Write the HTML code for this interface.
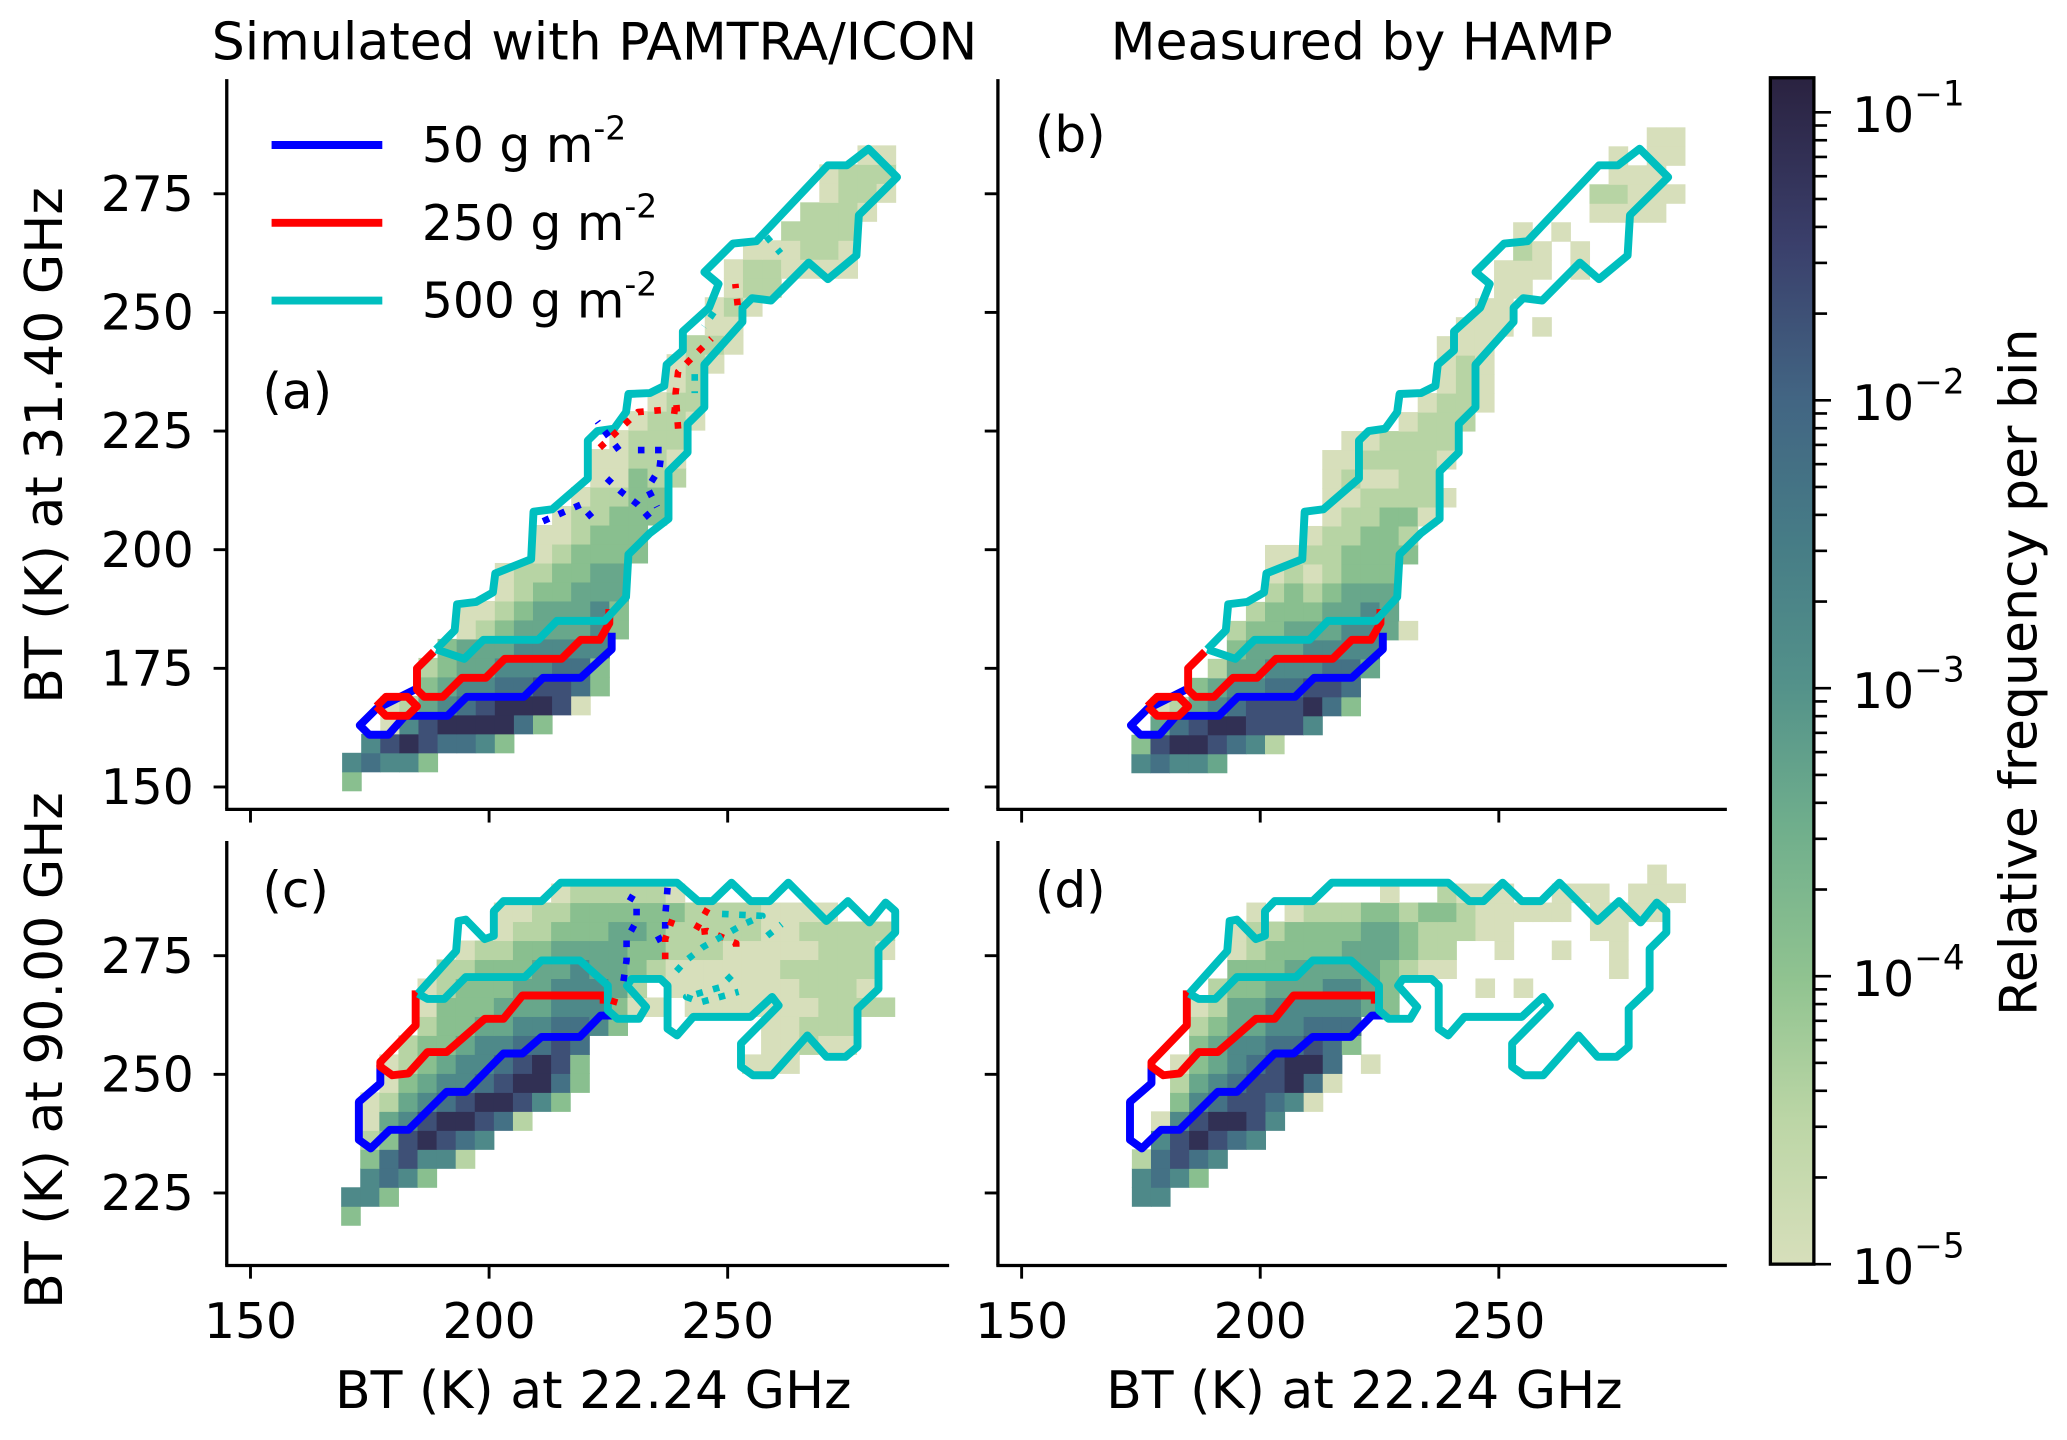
<!DOCTYPE html>
<html><head><meta charset="utf-8"><title>BT histograms</title>
<style>
html,body{margin:0;padding:0;background:#fff;}
svg{display:block;font-family:"DejaVu Sans","Liberation Sans",sans-serif;}
</style></head>
<body>
<svg id="chart" xmlns="http://www.w3.org/2000/svg" width="2067" height="1440" viewBox="0 0 1568 1092.4">
<defs>
<linearGradient id="cmap" x1="0" y1="1" x2="0" y2="0">
<stop offset="0" stop-color="#d7dfbb"/><stop offset="0.12" stop-color="#bcd6a6"/><stop offset="0.24" stop-color="#90c390"/>
<stop offset="0.37" stop-color="#6fae8c"/><stop offset="0.49" stop-color="#53918a"/><stop offset="0.61" stop-color="#467c86"/>
<stop offset="0.73" stop-color="#426583"/><stop offset="0.86" stop-color="#3a3f6b"/><stop offset="1" stop-color="#2a2240"/>
</linearGradient>
</defs>
<text x="451" y="45" font-size="39.5" text-anchor="middle">Simulated with PAMTRA/ICON</text>
<text x="1033" y="45" font-size="39.5" text-anchor="middle">Measured by HAMP</text>
<text x="450" y="1068" font-size="39.5" text-anchor="middle">BT (K) at 22.24 GHz</text>
<text x="1035" y="1068" font-size="39.5" text-anchor="middle">BT (K) at 22.24 GHz</text>
<text transform="translate(47,338) rotate(-90)" font-size="39.5" text-anchor="middle">BT (K) at 31.40 GHz</text>
<text transform="translate(47,797) rotate(-90)" font-size="39.5" text-anchor="middle">BT (K) at 90.00 GHz</text>
<text transform="translate(1545,510) rotate(-90)" font-size="39.5" text-anchor="middle">Relative frequency per bin</text>
<g id="plots"></g>
</svg>
<script>
// ---------- data ----------
const xTicks=[150,200,250];
const yTicksTop=[150,175,200,225,250,275];
const yTicksBot=[225,250,275];
const cbarExponents=[-1,-2,-3,-4,-5];
const binSize=4;
// heatmap rows (bottom to top); digit = log-frequency level, '.' = empty
const originA=[169.2,149.2];
const rowsA=["4","67664",".68987764","..268999974","..23567899982","....4566778874","....3455666774",".....455566666","......234555564","......223455564","........2344555","........2334455","..........234444","..........223444","...........233444","............23344",".............22433",".............22332","..............2333","...............2332","................233",".................23",".................232","..................332","...................22","...................232","....................233","....................2332222",".....................222332",".......................3333","........................3332",".........................2332",".........................2333","...........................22"];
const originB=[173,153];
const rowsB=["67665","48998763",".578998886",".23567888974","...456677887","....355666775",".....45556666",".....3445556652","......34445565",".......3434555",".......2323444",".......22334444",".........233443","..........233442","..........2233332","..........232233","..........2233332","...........223333","..............2333","...............2332","................232","................232","................222",".................222.2","..................22","...................22","...................222.2","....................32.2","....................2.2","........................2222","........................33222",".........................222",".........................2.22","...........................22"];
const originC=[169,218.2];
const rowsC=["4","664",".6764",".478663",".3489876",".256899873",".23567899864","..24566789974","..23456678984........222","...3445667787.........22322","....34455667764.......22333","....2444555666422.22222223333","....234445566653.22222223332",".....33444556554322222233333","......23344555544333222223332","........233444554333332233333","........223344444433332222","...........2333332"];
const originD=[173.1,222.2];
const rowsD=["66","6764","37876",".689876",".2689986","..46788762","..356788972","..245678997.2","...456677874","...345566777","...23556666654","....3445556654....2.2",".....444555554322........2",".....234444555433..2..2..2",".....233444455433322....22","......2.233344344322222.2222",".............2..3222..222.222","...........................2"];
// contours (BT22, BT31) for top row
const cyanTop=[[188.9,179],[194.8,177],[198.8,181],[210.3,181],[214.2,185],[224.2,185],[228.7,190],[229.2,199],[233.7,203.5],[237.6,206.5],[237.6,216.5],[241.6,220.5],[241.6,226.5],[245.1,230],[245.1,239],[253.1,248],[253.1,251],[255.1,253],[259.1,252.5],[267,260.5],[271,257],[277,262],[277.5,270.5],[285.5,278.5],[279.5,284.5],[275,281],[271,281],[256,265],[251.1,264.5],[245.1,258.5],[248.1,256],[246.1,251],[240.6,246],[240.6,242],[237.2,239],[236.7,234.5],[233.7,233],[229.2,232.8],[228.7,229],[226.2,225.5],[222.7,225],[220.7,223],[220.7,215],[213.2,208.5],[209.3,208],[208.8,198],[201.3,195],[200.8,191],[197.3,189],[193.3,188.5],[192.8,183],[188.9,179]];
const redTop=[[225.2,187.5],[225.2,184.5],[223.2,181],[219.2,181],[215.2,177],[203.3,177],[199.3,173],[194.3,173],[190.3,169],[186.4,169],[184.9,170.5],[184.9,175],[188.4,178.5]];
const redTopLoop=[[176.4,167],[178.4,169],[182.9,169],[184.9,167],[182.9,165],[178.4,165],[176.4,167]];
const blueTop=[[225.7,182.5],[225.7,179],[219.2,173],[211.3,173],[207.3,169],[195.3,169],[191.3,165],[182.4,165],[178.9,161],[174.9,161],[172.9,163],[176.4,166.5],[184.4,170.5]];
const blueTopDots=[[[211.3,206],[219.2,209.5],[222.2,206]],[[224.7,215],[227.7,212.2],[231.2,209.5],[234.2,206]],[[231.2,221],[236.2,221],[235.7,217],[233.2,213],[235.2,209]],[[227.2,221],[222.7,227]]];
const redTopDots=[[[223.2,221.5],[231.2,229],[237.2,229.5],[241.1,229]],[[239.6,225.5],[239.1,233],[239.6,237.5],[243.1,241],[246.6,244.5]],[[252.1,251.5],[251.6,256]]];
const cyanTopDots=[[[258.1,266],[261.1,262.5]],[[247.1,250],[245,247]],[[243.1,237],[243.1,233]]];
// contours (BT22, BT90) for bottom row
const cyanBot=[[185.1,267.0],[193.1,276.0],[193.6,282.3],[195.1,282.6],[199.1,278.5],[201.0,279.2],[201.0,284.4],[203.0,286.5],[211.0,286.5],[215.0,290.4],[239.4,290.4],[243.8,286.5],[246.8,286.5],[250.8,290.4],[254.8,286.5],[258.8,286.5],[262.7,290.4],[270.7,282.3],[275.2,286.5],[279.7,282.0],[283.1,286.2],[285.1,284.4],[285.1,279.9],[281.6,276.4],[281.6,268.0],[277.2,263.8],[277.2,255.8],[274.7,253.7],[270.7,253.7],[266.7,258.2],[259.3,249.8],[255.3,249.8],[252.8,251.6],[252.8,256.5],[260.7,264.5],[259.3,266.3],[254.8,262.1],[242.8,262.1],[239.4,258.2],[237.4,259.6],[237.4,268.7],[235.9,270.1],[229.9,270.1],[228.9,268.7],[232.9,264.2],[231.4,261.7],[226.9,261.7],[224.9,263.5],[224.9,268.7],[219.0,274.0],[211.0,274.0],[207.5,270.5],[195.1,270.5],[190.6,265.9],[187.1,265.9],[185.1,267.0]];
const redBot=[[224.0,264.9],[224.0,266.6],[222.0,266.6],[207.0,266.6],[203.0,261.7],[199.1,261.7],[191.1,254.7],[187.1,254.7],[183.1,250.2],[179.7,249.8],[177.2,251.6],[177.2,252.6],[184.6,260.3],[184.6,267.7]];
const blueBot=[[226.4,262.4],[223.4,262.4],[219.0,257.9],[211.0,257.9],[207.0,254.4],[203.0,254.4],[195.1,246.3],[191.1,246.3],[183.1,238.3],[179.2,238.3],[175.2,234.4],[172.7,236.2],[172.7,244.2],[177.2,248.1],[177.2,252.0]];
const blueBotDots=[[[229.2,287.5],[230.9,286.5],[230.9,282.3],[228.8,278.5],[228.8,274],[228.0,268.7]],[[237.4,289.3],[236.9,283.2],[236.9,279.2],[233.9,277.6]]];
const redBotDots=[[[238.4,282.6],[236.9,278.5],[236.9,274.0]],[[245.8,284.9],[243.0,279.9],[245.8,280.2],[251.8,277.6],[251.8,274.7]],[[226.4,266.0],[225.8,264.0]]];
const cyanBotDots=[[[248.8,283.8],[257.3,283.4],[253.3,281.6],[250.3,279.9],[247.8,278.5],[244.8,276.8],[241.3,274.0],[238.4,270.8]],[[250.8,270.8],[248.3,268.3],[241.3,266.3],[244.3,265.2],[252.3,267.4]],[[258.3,279.2],[261.3,281.6]]];
const legendLabels=["50 g m","250 g m","500 g m"];

// ---------- rendering ----------
const NS='http://www.w3.org/2000/svg';
const root=document.getElementById('plots');
function el(tag,parent){const e=document.createElementNS(NS,tag);parent.appendChild(e);return e;}
function setA(e,o){for(const k in o)e.setAttribute(k,o[k]);}
const stops=[[0,[215,223,187]],[0.12,[188,214,166]],[0.24,[144,195,144]],[0.37,[111,174,140]],[0.49,[83,145,138]],[0.61,[70,124,134]],[0.73,[66,101,131]],[0.86,[58,63,107]],[1,[42,34,64]]];
const LOGMIN=-5,LOGMAX=-0.88;
function cmap(t){t=Math.max(0,Math.min(1,t));for(let i=1;i<stops.length;i++){if(t<=stops[i][0]){const a=stops[i-1],b=stops[i];const f=(t-a[0])/(b[0]-a[0]);const c=a[1].map((v,k)=>Math.round(v+(b[1][k]-v)*f));return 'rgb('+c.join(',')+')';}}return 'rgb(42,34,64)';}
function levelToLog(d){return -5+(d-2)*0.55;}

const panels={
 a:{L:172,R:720,T:60,B:614,xp0:190,yv0:150,yp0:597,yt:yTicksTop,lab:true,xlab:false},
 b:{L:757,R:1310,T:60,B:614,xp0:775,yv0:150,yp0:597,yt:yTicksTop,lab:false,xlab:false},
 c:{L:172,R:720,T:638,B:960,xp0:190,yv0:225,yp0:905,yt:yTicksBot,lab:true,xlab:true},
 d:{L:757,R:1310,T:638,B:960,xp0:775,yv0:225,yp0:905,yt:yTicksBot,lab:false,xlab:true}
};
function sx(p,v){return p.xp0+(v-150)*3.62;}
function sy(p,v){return p.yp0-(v-p.yv0)*3.6;}

function drawHeat(p,rows,origin,name){
 const g=el('g',root);
 
 
 rows.forEach((s,j)=>{for(let k=0;k<s.length;k++){const ch=s[k];if(ch==='.')continue;
  const x=origin[0]+binSize*k,y=origin[1]+binSize*j;
  const r=el('rect',g);
  
  
  const x1=sx(p,x),x2=sx(p,x+binSize),y1=sy(p,y+binSize),y2=sy(p,y);
  const t=(levelToLog(+ch)-LOGMIN)/(LOGMAX-LOGMIN);
  setA(r,{x:x1,y:y1,width:x2-x1+0.4,height:y2-y1+0.4,fill:cmap(t)});
 }});
}
function drawLine(p,pts,color,name,dotted){
 const pl=el('polyline',root);
 
 
 setA(pl,{points:pts.map(q=>sx(p,q[0]).toFixed(1)+','+sy(p,q[1]).toFixed(1)).join(' '),fill:'none',stroke:color,'stroke-width':dotted?5:6,'stroke-linejoin':'round'});
 if(dotted)pl.setAttribute('stroke-dasharray','5 8');
}
function drawAxes(p,name){
 const g=el('g',root);
 
 
 const ln=(x1,y1,x2,y2,w)=>{const l=el('line',g);setA(l,{x1,y1,x2,y2,stroke:'#000','stroke-width':w});return l;};
 const sl=ln(p.L,p.T,p.L,p.B,2.5);
 const sb=ln(p.L-1.2,p.B,p.R,p.B,2.5);
 xTicks.forEach(v=>{const x=sx(p,v);const t=ln(x,p.B,x,p.B+10,2.2);
  if(p.xlab){const tx=el('text',g);setA(tx,{x:x,y:p.B+55,'font-size':37,'text-anchor':'middle'});tx.textContent=v;}});
 p.yt.forEach(v=>{const y=sy(p,v);const t=ln(p.L-10,y,p.L,y,2.2);
  if(p.lab){const tx=el('text',g);setA(tx,{x:p.L-25,y:y+13,'font-size':37,'text-anchor':'end'});tx.textContent=v;}});
}
function panelLabel(txt,x,y){const t=el('text',root);setA(t,{x,y,'font-size':38});t.textContent=txt;}

drawHeat(panels.a,rowsA,originA,'heatmap-a');
drawHeat(panels.b,rowsB,originB,'heatmap-b');
drawHeat(panels.c,rowsC,originC,'heatmap-c');
drawHeat(panels.d,rowsD,originD,'heatmap-d');
['a','b'].forEach(k=>{const p=panels[k];
 drawLine(p,blueTop,'#0000ff','contour-50-'+k);
 drawLine(p,redTop,'#ff0000','contour-250-'+k);
 drawLine(p,redTopLoop,'#ff0000','contour-250-loop-'+k);
 drawLine(p,cyanTop,'#00bfbf','contour-500-'+k);
});
blueTopDots.forEach(s=>drawLine(panels.a,s,'#0000ff','contour-50-masked',true));
redTopDots.forEach(s=>drawLine(panels.a,s,'#ff0000','contour-250-masked',true));
cyanTopDots.forEach(s=>drawLine(panels.a,s,'#00bfbf','contour-500-masked',true));
['c','d'].forEach(k=>{const p=panels[k];
 drawLine(p,blueBot,'#0000ff','contour-50-'+k);
 drawLine(p,redBot,'#ff0000','contour-250-'+k);
 drawLine(p,cyanBot,'#00bfbf','contour-500-'+k);
});
blueBotDots.forEach(s=>drawLine(panels.c,s,'#0000ff','contour-50-masked',true));
redBotDots.forEach(s=>drawLine(panels.c,s,'#ff0000','contour-250-masked',true));
cyanBotDots.forEach(s=>drawLine(panels.c,s,'#00bfbf','contour-500-masked',true));
Object.keys(panels).forEach(k=>drawAxes(panels[k],'panel-'+k));
panelLabel('(a)',199,310);panelLabel('(b)',785,115);panelLabel('(c)',199,688);panelLabel('(d)',785,688);

// legend
const legColors=['#0000ff','#ff0000','#00bfbf'];
const lg=el('g',root);


legendLabels.forEach((lab,i)=>{
 const y=110+i*59;
 const l=el('line',lg);
 
 
 setA(l,{x1:206,y1:y,x2:290,y2:y,stroke:legColors[i],'stroke-width':6});
 const t=el('text',lg);
 
 
 setA(t,{x:320,y:y+13,'font-size':37});
 t.appendChild(document.createTextNode(lab));
 const s=el('tspan',t);setA(s,{dy:-17,'font-size':25});s.textContent='-2';
});

// colorbar
const CB={L:1343,R:1376,T:59,B:959};
function cbY(e){return CB.B-(e-LOGMIN)/(LOGMAX-LOGMIN)*(CB.B-CB.T);}
const cb=el('g',root);


const cr=el('rect',cb);


setA(cr,{x:CB.L,y:CB.T,width:CB.R-CB.L,height:CB.B-CB.T,fill:'url(#cmap)',stroke:'#000','stroke-width':2.5});
for(let e=-5;e<=-1;e++){for(let m=1;m<=9;m++){const lv=e+Math.log10(m);if(lv>LOGMAX)continue;const y=cbY(lv);
 const t=el('line',cb);
 
 
 setA(t,{x1:CB.R,y1:y,x2:CB.R+(m===1?13:10),y2:y,stroke:'#000','stroke-width':2});}}
cbarExponents.forEach(e=>{const y=cbY(e);
 const t=el('text',cb);
 
 
 setA(t,{x:1405,y:y+15,'font-size':37});
 t.appendChild(document.createTextNode('10'));
 const s=el('tspan',t);setA(s,{dy:-20,'font-size':26});s.textContent='\u2212'+(-e);
});
</script>
</body></html>
